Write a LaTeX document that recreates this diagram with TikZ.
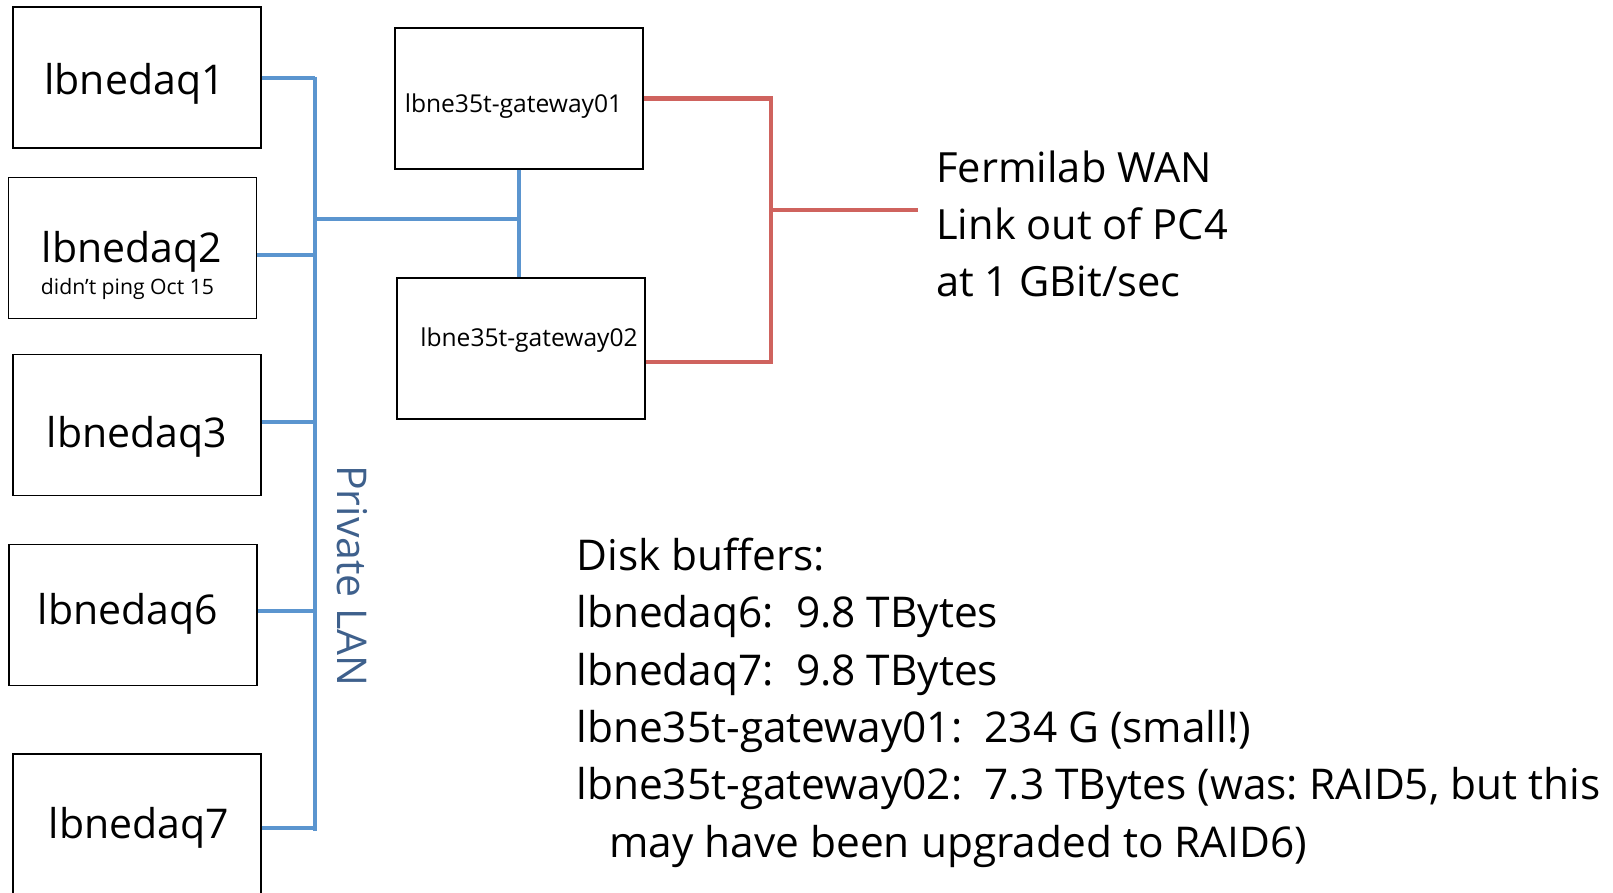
\documentclass[tikz,border=0pt]{standalone}
\usepackage{fontspec}
\setmainfont{Open Sans}
\usetikzlibrary{positioning,calc}
\frenchspacing

\definecolor{lanblue}{RGB}{91,149,207}
\definecolor{lantext}{RGB}{62,96,140}
\definecolor{wanred}{RGB}{207,99,94}

\tikzset{
  hostbox/.style={draw=black,line width=0.75pt,minimum width=124pt,minimum height=70.5pt,inner sep=0pt},
  bigtext/.style={font=\fontsize{20.5pt}{28.5pt}\selectfont,inner sep=0pt},
  gwtext/.style={font=\fontsize{12.3pt}{14pt}\selectfont,inner sep=0pt,anchor=base},
  lanline/.style={draw=lanblue,line width=2.2pt},
  wanline/.style={draw=wanred,line width=2.2pt},
}

\begin{document}
\begin{tikzpicture}[x=0.5pt,y=-0.5pt]
  \useasboundingbox (0,0) rectangle (1613,893);

  % --- DAQ hosts ---
  \node[hostbox] (daq1) at (137,77.5) {};
  \node[hostbox] (daq2) at (132.5,248) {};
  \node[hostbox] (daq3) at (137,425) {};
  \node[hostbox] (daq6) at (133,615) {};
  \node[hostbox] (daq7) at (137,824.5) {};

  \node[bigtext,anchor=base] (daq1txt) at (134.5,95) {lbnedaq1};
  \node[bigtext,anchor=base] (daq2txt) at (132,263) {lbnedaq2};
  \node[font=\fontsize{10.6pt}{12pt}\selectfont,inner sep=0pt,anchor=base] (daq2note) at (127.5,295) {didn’t ping Oct 15};
  \node[bigtext,anchor=base] (daq3txt) at (137,447) {lbnedaq3};
  \node[bigtext,anchor=base] (daq6txt) at (128,624) {lbnedaq6};
  \node[bigtext,anchor=base] (daq7txt) at (139,838) {lbnedaq7};

  % --- gateways ---
  \node[hostbox] (gw1) at (519,98.5) {};
  \node[hostbox] (gw2) at (521,348.5) {};
  \node[gwtext] (gw1txt) at (513.5,113) {lbne35t-gateway01};
  \node[gwtext] (gw2txt) at (529,347) {lbne35t-gateway02};

  % --- private LAN ---
  \coordinate (lantop) at (315,77);
  \coordinate (lanbot) at (315,831);
  \draw[lanline] (lantop) -- (lanbot);
  \foreach \h/\y in {daq1/78,daq2/255,daq3/422,daq6/611,daq7/828}{
    \coordinate (tap\h) at (315,\y);
    \draw[lanline] (\h.east |- tap\h) -- (tap\h);
  }
  \coordinate (lanhub) at (315,219);
  \coordinate (gwhub) at (519,219);
  \draw[lanline] (lanhub) -- (gwhub);
  \draw[lanline] (gw1.south) -- (gw1.south |- gw2.north);

  \node[bigtext,text=lantext,rotate=-90] (lanlbl) at (352,576) {Private LAN};

  % --- WAN link ---
  \coordinate (wanbus) at (771,210);
  \coordinate (gw2tap) at (645,362);
  \coordinate (wanend) at (918,210);
  \draw[wanline] (gw1.east) -- (gw1.east -| wanbus) -- (wanbus |- gw2tap) -- (gw2.east |- gw2tap);
  \draw[wanline] (wanbus) -- (wanend);

  % base anchor sits on the last line
  \node[bigtext,font=\fontsize{20.8pt}{28.5pt}\selectfont,anchor=base west,align=left] (wantxt) at (936,297)
    {Fermilab WAN\\Link out of PC4\\at 1 GBit/sec};

  % --- disk buffers ---
  \node[bigtext,font=\fontsize{21.2pt}{28.65pt}\selectfont,anchor=base west,align=left] (disktxt) at (576,857)
    {Disk buffers:\\
     lbnedaq6:\ \ 9.8 TBytes\\
     lbnedaq7:\ \ 9.8 TBytes\\
     lbne35t-gateway01:\ \ 234 G (small!)\\
     lbne35t-gateway02:\ \ 7.3 TBytes (was: RAID5, but this\\
     \hspace*{16.5pt}may have been upgraded to RAID6)};
\end{tikzpicture}
\end{document}
